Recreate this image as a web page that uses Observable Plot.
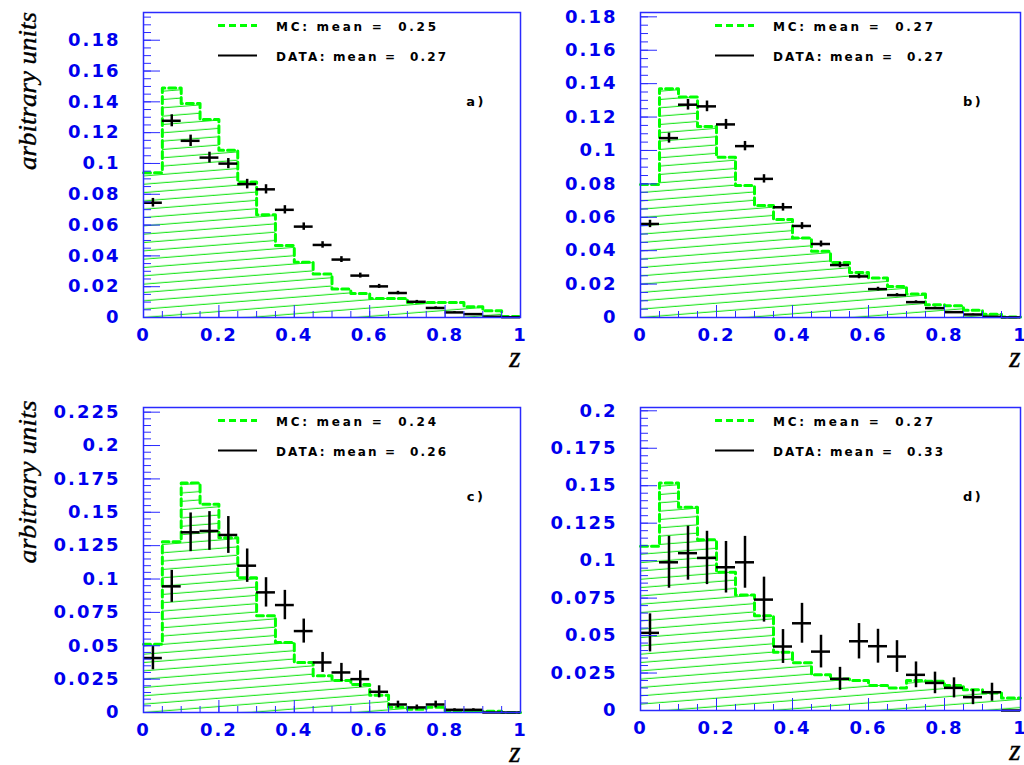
<!DOCTYPE html>
<html>
<head>
<meta charset="utf-8">
<script src="https://cdn.jsdelivr.net/npm/d3@7"></script>
<script src="https://cdn.jsdelivr.net/npm/@observablehq/plot@0.6"></script>
<style>
  html, body { margin: 0; padding: 0; background: #fff; }
  #page { position: relative; width: 1024px; height: 765px; overflow: hidden; background: #fff; }
  .panel { position: absolute; }
  .panel svg g[aria-label="y-axis tick label"] text,
  .panel svg g[aria-label="x-axis tick label"] text { letter-spacing: 2px; }
  .legend-text { font-family: "DejaVu Sans", sans-serif; font-weight: bold; font-size: 12px; white-space: pre; fill: #000; }
  .axis-title { font-family: "Liberation Serif", "DejaVu Serif", serif; font-style: italic; fill: #000; stroke: #000; stroke-width: 0.35px; }
</style>
</head>
<body>
<svg width="0" height="0" style="position:absolute">
  <defs>
    <!-- thin slanted hatch used to fill the MC histograms -->
    <pattern id="mcHatch" patternUnits="userSpaceOnUse" width="80" height="8.3" patternTransform="rotate(-4.5)">
      <line x1="0" y1="4" x2="80" y2="4" stroke="#22e622" stroke-width="1"></line>
    </pattern>
  </defs>
</svg>
<div id="page"></div>
<script>
// ---- bins in z (width 0.05) ----
const zCenters = [0.025, 0.075, 0.125, 0.175, 0.225, 0.275, 0.325, 0.375, 0.425, 0.475,
                  0.525, 0.575, 0.625, 0.675, 0.725, 0.775, 0.825, 0.875, 0.925, 0.975];
const HALF_BIN = 0.025;
const zTicks = [0, 0.2, 0.4, 0.6, 0.8, 1];
const zMinorTicks = [0, 0.05, 0.1, 0.15, 0.2, 0.25, 0.3, 0.35, 0.4, 0.45, 0.5,
                     0.55, 0.6, 0.65, 0.7, 0.75, 0.8, 0.85, 0.9, 0.95, 1];

// ---- a) ----
const mcA   = [0.094, 0.149, 0.139, 0.1286, 0.1086, 0.088, 0.0667, 0.0467, 0.0358, 0.0283,
               0.0185, 0.0156, 0.0124, 0.0124, 0.0098, 0.0098, 0.0098, 0.007, 0.0044, 0.0007];
const dataA = [0.0745, 0.1277, 0.1147, 0.1038, 0.0999, 0.0866, 0.0832, 0.0699, 0.059, 0.0471,
               0.0376, 0.0272, 0.0202, 0.0159, 0.0102, 0.0062, 0.0033, 0.0022, 0.0005, 0.0002];
const errA  = [0.0028, 0.0039, 0.0037, 0.0035, 0.0033, 0.0031, 0.003, 0.0027, 0.0024, 0.0021,
               0.0019, 0.0016, 0.0013, 0.0011, 0.0009, 0.0007, 0.0005, 0.0004, 0.0002, 0.0001];
const yTicksA = [0, 0.02, 0.04, 0.06, 0.08, 0.1, 0.12, 0.14, 0.16, 0.18];

// ---- b) ----
const mcB   = [0.0796, 0.137, 0.132, 0.1144, 0.096, 0.079, 0.067, 0.0586, 0.0476, 0.0396,
               0.033, 0.027, 0.0236, 0.0186, 0.014, 0.0076, 0.007, 0.0044, 0.002, 0.0003];
const dataB = [0.056, 0.1074, 0.1274, 0.1264, 0.1156, 0.1026, 0.083, 0.066, 0.0548, 0.044,
               0.0314, 0.0246, 0.017, 0.0134, 0.0092, 0.0056, 0.0032, 0.0018, 0.0004, 0.0001];
const errB  = [0.0022, 0.003, 0.0032, 0.0032, 0.003, 0.0028, 0.0025, 0.0023, 0.002, 0.0018,
               0.0016, 0.0014, 0.0011, 0.0009, 0.0008, 0.0006, 0.0004, 0.0003, 0.0002, 0.0001];
const yTicksB = [0, 0.02, 0.04, 0.06, 0.08, 0.1, 0.12, 0.14, 0.16, 0.18];

// ---- c) ----
const mcC   = [0.0512, 0.128, 0.172, 0.156, 0.131, 0.101, 0.0725, 0.0525, 0.0375, 0.0275,
               0.024, 0.021, 0.013, 0.004, 0.0025, 0.004, 0.001, 0.001, 0.001, 0];
const dataC = [0.0408, 0.0945, 0.135, 0.136, 0.133, 0.11, 0.09, 0.0805, 0.061, 0.0375,
               0.03, 0.025, 0.0155, 0.006, 0.0038, 0.006, 0.002, 0.002, 0, 0];
const errC  = [0.0088, 0.012, 0.0145, 0.0145, 0.0138, 0.0125, 0.011, 0.011, 0.009, 0.0075,
               0.0068, 0.0063, 0.0045, 0.0025, 0.0018, 0.0025, 0.0008, 0.0008, 0, 0];
const yTicksC = [0, 0.025, 0.05, 0.075, 0.1, 0.125, 0.15, 0.175, 0.2, 0.225];

// ---- d) ----
const mcD   = [0.1096, 0.1518, 0.1356, 0.114, 0.0922, 0.0771, 0.0633, 0.0389, 0.0318, 0.0238,
               0.0211, 0.02, 0.0167, 0.015, 0.02, 0.0196, 0.0167, 0.0138, 0.0116, 0.0084];
const dataD = [0.0518, 0.0989, 0.105, 0.1018, 0.0956, 0.0989, 0.074, 0.0427, 0.0582, 0.0393,
               0.0211, 0.0462, 0.0429, 0.036, 0.0238, 0.0184, 0.0151, 0.0089, 0.0122, 0];
const errD  = [0.0127, 0.0173, 0.018, 0.0178, 0.0172, 0.0173, 0.015, 0.0113, 0.0133, 0.0109,
               0.0077, 0.0118, 0.0113, 0.0106, 0.0086, 0.0072, 0.0067, 0.005, 0.006, 0];
const yTicksD = [0, 0.025, 0.05, 0.075, 0.1, 0.125, 0.15, 0.175, 0.2];

const BLUE = "#0000ee";
const FRAME_BLUE = "#2a2aff";
const MC_GREEN = "#00ff00";

function drawPanel(cfg) {
  const {tag, mc, data, err, yMax, yTicks, mcMean, dataMean,
         left, top, width, height, mL, mR, mT, mB, yTitle} = cfg;
  const innerW = width - mL - mR;
  const innerH = height - mT - mB;

  // step outline of the MC histogram: one row per lower bin edge, closed at z = 1
  const hist = zCenters.map((c, i) => ({x: c - HALF_BIN, v: mc[i]}));
  hist.push({x: zCenters[zCenters.length - 1] + HALF_BIN, v: mc[mc.length - 1]});
  const pts = zCenters.map((c, i) => ({z: c, v: data[i], e: err[i]}));
  const yMinor = d3.range(0, yMax, 0.005);
  const fmt = d => String(d);
  const tickFont = {fill: BLUE, fontFamily: "DejaVu Sans", fontSize: 18, fontWeight: "bold"};

  const svg = Plot.plot({
    width, height,
    marginLeft: mL, marginRight: mR, marginTop: mT, marginBottom: mB,
    x: {domain: [0, 1]},
    y: {domain: [0, yMax]},
    style: {background: "transparent", overflow: "visible"},
    marks: [
      Plot.areaY(hist, {x: "x", y: "v", curve: "step-after", fill: "url(#mcHatch)"}),
      Plot.lineY(hist, {x: "x", y: "v", curve: "step-after", stroke: MC_GREEN,
                        strokeWidth: 3, strokeDasharray: "7,4"}),
      Plot.ruleY(pts, {y: "v", x1: d => d.z - HALF_BIN, x2: d => d.z + HALF_BIN,
                       stroke: "black", strokeWidth: 2.5}),
      Plot.ruleX(pts.filter(d => d.e > 0), {x: "z", y1: d => d.v - d.e, y2: d => d.v + d.e,
                       stroke: "black", strokeWidth: 2.5}),
      // inward ticks on the left and bottom edges
      Plot.tickY(yMinor, {y: d => d, stroke: FRAME_BLUE, insetRight: innerW - 8}),
      Plot.tickY(yTicks, {y: d => d, stroke: FRAME_BLUE, insetRight: innerW - 17}),
      Plot.tickX(zMinorTicks, {x: d => d, stroke: FRAME_BLUE, insetTop: innerH - 6}),
      Plot.tickX(zTicks, {x: d => d, stroke: FRAME_BLUE, insetTop: innerH - 12}),
      Plot.frame({stroke: FRAME_BLUE, strokeWidth: 1.5}),
      Plot.axisY(yTicks, {tickSize: 0, tickPadding: 23, label: null, tickFormat: fmt, ...tickFont}),
      Plot.axisX(zTicks, {tickSize: 0, tickPadding: 11, label: null, tickFormat: fmt, ...tickFont})
    ]
  });

  const g = d3.select(svg).append("g").attr("transform", `translate(${mL},${mT})`);
  // legend
  g.append("line").attr("x1", 75).attr("x2", 114).attr("y1", 13.5).attr("y2", 13.5)
    .attr("stroke", MC_GREEN).attr("stroke-width", 3).attr("stroke-dasharray", "7,4");
  g.append("line").attr("x1", 75).attr("x2", 114).attr("y1", 43.5).attr("y2", 43.5)
    .attr("stroke", "black").attr("stroke-width", 2);
  g.append("text").attr("class", "legend-text").attr("text-anchor", "start")
    .attr("x", 133).attr("y", 18.5)
    .attr("textLength", 160).attr("lengthAdjust", "spacing")
    .text(`MC: mean =  ${mcMean}`);
  g.append("text").attr("class", "legend-text").attr("text-anchor", "start")
    .attr("x", 133).attr("y", 48.5)
    .attr("textLength", 170).attr("lengthAdjust", "spacing")
    .text(`DATA: mean =  ${dataMean}`);
  // panel tag
  g.append("text").attr("class", "legend-text").attr("x", 333).attr("y", 94)
    .attr("text-anchor", "middle").style("font-size", "13px").style("letter-spacing", "2.5px").text(tag);
  // x title
  g.append("text").attr("class", "axis-title").attr("x", innerW - 5).attr("y", innerH + 50)
    .attr("text-anchor", "middle").attr("font-size", 29).text("z");
  // y title (cy given in page pixels)
  if (yTitle) {
    g.append("text").attr("class", "axis-title")
      .attr("transform", `translate(${36 - mL},${yTitle.cy - top - mT}) rotate(-90)`)
      .attr("text-anchor", "middle").attr("font-size", 25)
      .attr("textLength", yTitle.len).attr("lengthAdjust", "spacingAndGlyphs")
      .text("arbitrary units");
  }

  const div = document.createElement("div");
  div.className = "panel";
  div.style.left = left + "px";
  div.style.top = top + "px";
  div.appendChild(svg);
  document.getElementById("page").appendChild(div);
}

drawPanel({tag: "a)", mc: mcA, data: dataA, err: errA, yMax: 0.198, yTicks: yTicksA,
  mcMean: "0.25", dataMean: "0.27",
  left: 0, top: 0, width: 525, height: 382, mL: 143, mR: 5, mT: 12, mB: 65,
  yTitle: {cy: 91, len: 158}});
drawPanel({tag: "b)", mc: mcB, data: dataB, err: errB, yMax: 0.1826, yTicks: yTicksB,
  mcMean: "0.27", dataMean: "0.27",
  left: 497, top: 0, width: 527, height: 382, mL: 143, mR: 4, mT: 12, mB: 65});
drawPanel({tag: "c)", mc: mcC, data: dataC, err: errC, yMax: 0.2285, yTicks: yTicksC,
  mcMean: "0.24", dataMean: "0.26",
  left: 0, top: 395, width: 525, height: 370, mL: 143, mR: 5, mT: 12, mB: 53,
  yTitle: {cy: 482, len: 163}});
drawPanel({tag: "d)", mc: mcD, data: dataD, err: errD, yMax: 0.2022, yTicks: yTicksD,
  mcMean: "0.27", dataMean: "0.33",
  left: 497, top: 395, width: 527, height: 370, mL: 143, mR: 4, mT: 12, mB: 55});
</script>
</body>
</html>
